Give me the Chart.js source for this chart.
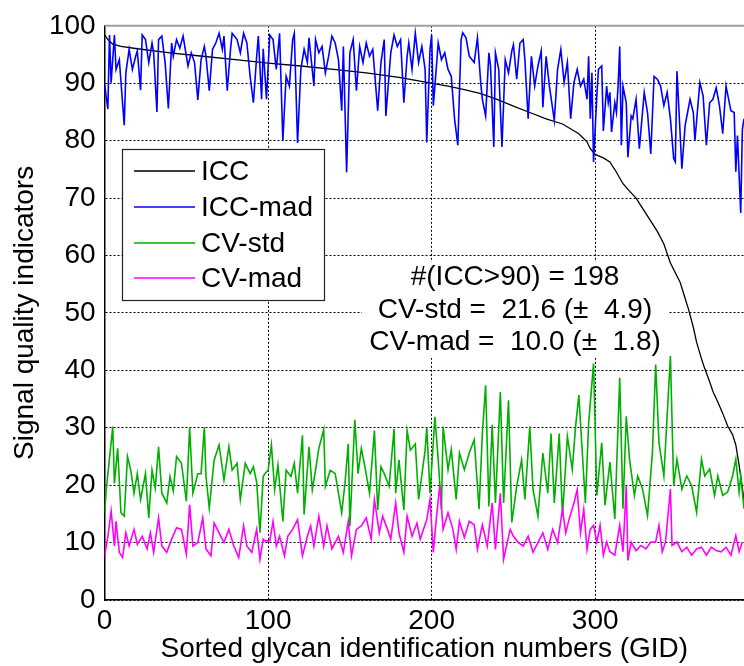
<!DOCTYPE html>
<html><head><meta charset="utf-8">
<script src="https://cdn.jsdelivr.net/npm/chart.js@4"></script>
<style>html,body{margin:0;padding:0;background:#fff}#wrap{width:744px;height:666px;position:relative;overflow:hidden}</style>
</head><body><div id="wrap"><canvas id="c" width="744" height="666"></canvas></div>
<script>
const FONT = "'Liberation Sans', Arial, Helvetica, sans-serif";
const xTitle = 'Sorted glycan identification numbers (GID)';
const yTitle = 'Signal quality indicators';
const seriesNames = ['ICC', 'ICC-mad', 'CV-std', 'CV-mad'];
const annotationLines = ['#(ICC>90) = 198', 'CV-std =  21.6 (\u00b1  4.9)', 'CV-mad =  10.0 (\u00b1  1.8)'];
const xMax = 391;
const xTickValues = [0, 100, 200, 300];
const yMax = 100;
const yTickValues = [0, 10, 20, 30, 40, 50, 60, 70, 80, 90, 100];

// [GID index, value]
const icc = [[0,98.4],[2,97.6],[5,96.8],[10,96.4],[20,96.0],[40,95.3],[60,94.7],[80,94.1],[100,93.5],[120,93.0],[140,92.4],[160,91.8],[180,91.0],[198,90.1],[210,89.5],[220,88.9],[230,88.2],[240,87.2],[250,86.0],[260,84.9],[270,83.8],[280,82.9],[290,81.2],[295,79.8],[297,78.6],[300,77.6],[305,77.0],[309,76.3],[313,74.5],[317,72.5],[321,71.2],[325,70.0],[329,68.2],[334,66.0],[338,64.2],[342,62.0],[346,58.7],[349,57.0],[352,55.3],[355,52.5],[357,50.7],[360,47.5],[362,44.9],[365,42.0],[367,40.3],[370,38.0],[372,36.3],[375,34.5],[378,32.5],[381,30.3],[384,28.8],[386,27.0],[388,23.5],[390,19.5],[391,17.5]];

const iccMad = [[0,89.8],[2,85.5],[3,98.4],[4,90.1],[6,98.4],[7,92.4],[9,94.1],[12,82.7],[13,91.8],[15,95.9],[17,92.4],[19,94.7],[20,95.6],[22,88.8],[23,98.4],[25,97.6],[27,93.6],[29,97.0],[30,95.3],[32,85.0],[33,97.6],[35,98.2],[37,93.6],[39,85.6],[41,97.0],[42,94.7],[44,97.6],[46,96.1],[48,98.2],[51,93.0],[53,95.3],[55,93.6],[57,87.1],[59,94.1],[61,96.4],[62,94.7],[64,88.7],[66,95.9],[68,97.0],[70,98.7],[72,95.9],[73,98.2],[75,88.7],[77,95.9],[78,98.7],[81,97.6],[83,95.3],[85,98.7],[87,97.0],[89,91.2],[91,86.6],[93,94.7],[94,98.2],[96,87.2],[97,96.0],[99,87.2],[101,98.4],[103,97.6],[105,92.4],[107,98.7],[109,80.0],[111,91.2],[113,89.5],[115,97.6],[116,98.7],[118,79.6],[120,92.4],[122,95.9],[124,93.6],[125,97.9],[128,89.5],[129,97.6],[131,95.3],[133,96.4],[135,91.8],[137,94.7],[139,98.2],[141,97.0],[143,94.1],[145,85.2],[146,96.4],[148,74.5],[150,95.3],[152,97.6],[154,88.7],[156,96.4],[158,93.6],[160,97.0],[162,94.7],[164,95.9],[167,85.2],[169,93.6],[171,97.6],[172,84.3],[175,95.3],[177,98.4],[179,96.4],[181,97.6],[183,86.6],[185,94.7],[186,97.0],[188,92.4],[190,98.7],[192,93.6],[194,96.4],[196,92.4],[197,79.7],[199,95.9],[200,98.4],[201,86.1],[202,89.5],[204,97.0],[206,94.1],[208,95.3],[210,92.4],[212,91.2],[214,83.8],[216,79.2],[218,97.6],[219,98.8],[221,97.9],[223,94.7],[226,93.6],[228,97.9],[230,90.1],[231,87.2],[233,84.3],[235,95.3],[236,93.0],[238,78.9],[239,95.3],[241,92.4],[243,78.9],[245,94.1],[247,91.8],[249,95.6],[250,96.7],[252,90.7],[254,97.0],[256,97.6],[257,94.1],[259,83.8],[261,94.7],[263,89.5],[265,93.0],[267,95.6],[268,85.8],[270,94.7],[272,89.5],[275,83.5],[277,92.4],[279,95.9],[281,90.1],[283,93.6],[285,83.8],[287,90.1],[289,92.4],[291,89.5],[293,90.7],[295,87.2],[296,94.7],[297,83.8],[298,91.8],[299,76.3],[301,87.8],[302,92.4],[304,93.0],[305,81.7],[307,89.5],[308,86.6],[309,88.4],[310,81.5],[312,86.6],[313,84.9],[314,89.5],[315,96.4],[316,79.2],[317,89.5],[319,86.6],[320,77.1],[322,84.3],[323,83.8],[325,87.2],[327,78.6],[330,88.4],[332,84.9],[334,77.7],[336,91.2],[338,90.7],[340,89.5],[342,86.1],[344,88.4],[346,83.8],[348,76.9],[349,76.3],[350,92.1],[351,86.6],[353,75.1],[355,82.6],[358,87.2],[360,84.9],[361,80.0],[364,90.1],[366,87.8],[368,79.2],[370,86.6],[372,87.2],[374,89.2],[376,86.1],[378,81.2],[380,89.5],[383,85.2],[385,84.9],[386,74.6],[387,80.9],[389,67.4],[390,82.0],[391,83.8]];

const cvStd = [[0,15.2],[1,19.2],[5,30.2],[6,20.3],[8,26.4],[10,15.2],[12,14.6],[14,25.0],[16,22.6],[18,18.6],[20,22.0],[22,17.5],[25,22.0],[27,14.3],[29,22.6],[31,19.5],[33,26.7],[35,18.6],[38,16.9],[40,21.5],[42,19.0],[44,25.0],[47,23.8],[50,17.2],[52,30.0],[54,18.6],[57,22.0],[59,22.0],[61,30.1],[62,21.5],[64,16.0],[67,24.4],[70,27.0],[73,20.9],[76,26.7],[78,22.6],[81,23.8],[83,17.5],[86,23.8],[89,22.0],[91,23.2],[93,20.5],[95,11.7],[97,21.5],[98,22.0],[100,22.6],[102,27.0],[104,19.2],[106,23.5],[109,13.7],[111,22.6],[114,21.5],[116,23.8],[118,18.6],[121,28.7],[122,14.9],[125,26.7],[127,19.2],[129,22.6],[131,26.4],[134,29.7],[135,19.8],[138,22.6],[141,22.0],[145,15.2],[147,20.3],[149,27.2],[150,12.9],[153,31.4],[155,22.0],[157,26.4],[159,23.5],[162,18.6],[165,29.5],[167,15.7],[169,23.2],[171,22.0],[174,19.8],[177,29.8],[178,18.6],[180,24.4],[183,15.7],[185,29.5],[187,26.1],[190,27.2],[192,17.5],[196,26.1],[197,30.0],[199,18.6],[202,31.9],[204,24.4],[206,15.8],[207,30.2],[210,22.7],[212,26.2],[215,17.5],[217,25.6],[220,22.7],[223,25.6],[226,27.9],[229,15.8],[231,29.0],[233,37.4],[235,16.3],[237,30.5],[239,16.9],[242,36.2],[244,16.9],[247,34.8],[249,13.5],[252,19.8],[255,24.4],[257,17.5],[260,30.2],[262,19.2],[265,14.6],[268,25.6],[271,18.6],[273,29.0],[275,16.9],[278,29.0],[280,14.6],[283,28.5],[286,22.7],[288,30.2],[290,35.7],[292,26.2],[294,16.9],[296,30.8],[299,41.2],[301,18.2],[304,27.4],[306,16.5],[309,24.0],[312,14.1],[315,38.7],[317,15.9],[319,32.0],[321,24.5],[324,18.2],[326,21.6],[329,19.3],[332,14.7],[335,25.7],[337,41.0],[339,27.4],[342,21.6],[346,42.5],[348,19.9],[350,24.5],[353,19.3],[356,21.6],[359,19.9],[362,15.3],[365,24.5],[367,21.6],[370,22.8],[373,18.2],[375,21.6],[378,18.2],[381,18.8],[384,21.6],[386,24.5],[388,18.8],[389,21.6],[391,15.9]];

const cvMad = [[0,7.7],[2,11.1],[4,15.5],[6,9.4],[7,13.7],[9,8.3],[11,7.4],[13,11.7],[15,9.4],[18,12.3],[20,9.7],[23,11.1],[26,8.9],[28,11.7],[30,8.3],[33,14.3],[35,9.4],[38,8.3],[41,10.6],[44,12.6],[47,12.3],[50,8.0],[52,16.6],[54,9.4],[57,10.0],[60,14.3],[62,8.9],[65,7.7],[67,13.4],[70,11.7],[73,10.0],[76,12.3],[79,9.4],[82,7.4],[85,12.9],[87,9.4],[90,8.3],[93,12.3],[95,7.1],[97,10.6],[98,10.3],[101,10.3],[103,13.7],[105,9.4],[107,11.1],[110,7.7],[112,11.1],[115,12.3],[118,14.0],[121,7.7],[124,11.1],[126,12.9],[128,9.4],[131,14.6],[134,9.4],[136,12.9],[139,8.9],[143,11.1],[146,8.3],[149,13.7],[151,7.7],[154,12.3],[157,12.9],[160,14.3],[163,10.6],[165,17.5],[168,11.7],[170,14.6],[173,12.3],[175,10.6],[178,16.9],[180,11.7],[183,8.3],[185,14.6],[188,11.1],[191,13.4],[193,10.6],[197,14.0],[199,17.5],[201,8.3],[203,14.6],[205,20.0],[207,12.3],[210,15.2],[213,12.3],[215,8.8],[217,13.7],[220,10.9],[223,13.7],[226,13.1],[228,8.8],[231,13.1],[234,9.4],[237,16.9],[239,8.8],[242,18.6],[244,7.1],[248,12.3],[250,11.1],[253,10.0],[256,9.4],[259,11.1],[262,8.3],[265,10.0],[268,11.7],[271,8.8],[274,12.3],[277,10.0],[280,15.8],[282,11.7],[284,14.0],[287,16.9],[289,19.2],[291,11.7],[293,15.8],[295,8.8],[297,12.3],[299,13.0],[301,10.1],[303,13.0],[305,7.8],[307,10.1],[309,8.4],[312,7.8],[315,13.0],[317,8.4],[319,19.9],[320,6.9],[322,10.1],[325,8.6],[328,9.5],[331,8.9],[334,10.1],[337,10.1],[339,13.0],[341,8.4],[343,10.1],[346,19.3],[347,9.5],[350,10.1],[353,8.4],[356,9.2],[359,7.8],[362,8.9],[365,9.2],[368,7.8],[371,9.2],[374,8.6],[377,8.4],[380,9.2],[383,7.8],[386,11.2],[388,8.4],[390,10.1]];

const toXY = arr => arr.map(p => ({x: p[0], y: p[1]}));

const decor = {
  id: 'decor',
  afterDraw(chart) {
    const ctx = chart.ctx, a = chart.chartArea;
    ctx.save();
    ctx.strokeStyle = '#a0a0a0'; ctx.lineWidth = 2;
    ctx.beginPath(); ctx.moveTo(a.left, a.top); ctx.lineTo(a.right, a.top); ctx.stroke();
    const L = {x: 122.5, y: 149.5, w: 202, h: 151, rows: [171, 207, 243, 278], l1: 134, l2: 195, tx: 201};
    ctx.fillStyle = '#fff'; ctx.fillRect(L.x, L.y, L.w, L.h);
    ctx.strokeStyle = '#222'; ctx.lineWidth = 1.2; ctx.strokeRect(L.x, L.y, L.w, L.h);
    ctx.font = '28px ' + FONT; ctx.textBaseline = 'middle'; ctx.textAlign = 'left';
    chart.data.datasets.forEach((ds, i) => {
      ctx.strokeStyle = ds.borderColor; ctx.lineWidth = 1.3;
      ctx.beginPath(); ctx.moveTo(L.l1, L.rows[i]); ctx.lineTo(L.l2, L.rows[i]); ctx.stroke();
      ctx.fillStyle = '#000'; ctx.fillText(ds.label, L.tx, L.rows[i] + 1);
    });
    const B = {x: 362, y: 262, w: 306, h: 96, cx: 515, rows: [277, 310, 342]};
    ctx.fillStyle = '#fff'; ctx.fillRect(B.x, B.y, B.w, B.h);
    ctx.fillStyle = '#000'; ctx.textAlign = 'center';
    annotationLines.forEach((t, i) => ctx.fillText(t, B.cx, B.rows[i]));
    ctx.restore();
  }
};

const colors = ['#000000', '#0000ff', '#00b000', '#ff00ff'];
const widths = [1.3, 1.6, 1.6, 1.6];
const seriesData = [icc, iccMad, cvStd, cvMad];

new Chart(document.getElementById('c'), {
  type: 'line',
  data: {
    datasets: seriesData.map((d, i) => ({
      label: seriesNames[i], data: toXY(d), borderColor: colors[i], backgroundColor: colors[i],
      borderWidth: widths[i], pointRadius: 0, tension: 0, fill: false, order: 4 - i
    }))
  },
  options: {
    responsive: false, animation: false, devicePixelRatio: 1,
    layout: {padding: {top: 21, right: 0, left: 0, bottom: 0}},
    plugins: {legend: {display: false}, tooltip: {enabled: false}},
    scales: {
      x: {
        type: 'linear', min: 0, max: xMax,
        afterBuildTicks(s) { s.ticks = xTickValues.map(v => ({value: v})); },
        ticks: {color: '#000', font: {family: FONT, size: 28}, padding: 4, maxRotation: 0, autoSkip: false},
        grid: {color: '#000', lineWidth: 1, drawTicks: false},
        border: {display: true, color: '#000', width: 1.5, dash: [2, 2]},
        title: {display: true, text: xTitle, color: '#000', font: {family: FONT, size: 28, lineHeight: 1.1}, padding: {top: 0, bottom: 1}},
        afterFit(s) { s.height = 66; s.paddingRight = 0; }
      },
      y: {
        min: 0, max: yMax,
        afterBuildTicks(s) { s.ticks = yTickValues.map(v => ({value: v})); },
        ticks: {color: '#000', font: {family: FONT, size: 28}, padding: 9, autoSkip: false},
        grid: {color: c => (c.tick && c.tick.value === yMax) ? 'rgba(0,0,0,0)' : '#000', lineWidth: 1, drawTicks: false},
        border: {display: true, color: '#000', width: 1.5, dash: [2, 2]},
        title: {display: true, text: yTitle, color: '#000', font: {family: FONT, size: 28, lineHeight: 1.2}, padding: {top: 8, bottom: 0}},
        afterFit(s) { s.width = 104.6; }
      }
    }
  },
  plugins: [decor]
});
</script></body></html>
